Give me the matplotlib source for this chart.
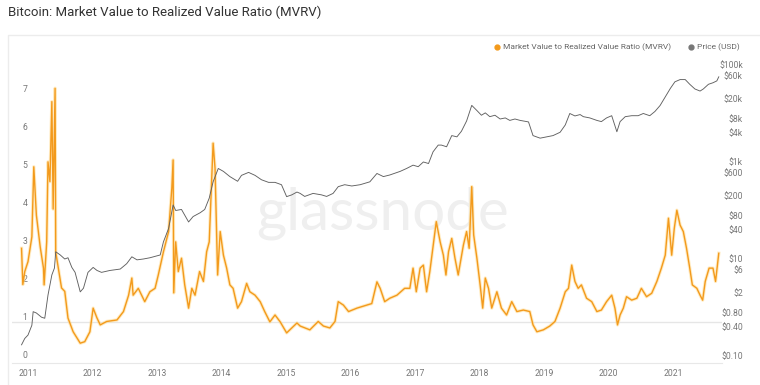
import matplotlib
matplotlib.use("Agg")
import matplotlib.pyplot as plt
from matplotlib.lines import Line2D
from matplotlib.patches import Rectangle
from matplotlib.ticker import FixedLocator, NullLocator

plt.rcParams['font.family'] = ['Roboto', 'DejaVu Sans']

# MVRV ratio (decimal year, ratio)
mvrv_years = [
    2010.90, 2010.92, 2010.95, 2011.00, 2011.06, 2011.09, 2011.13, 2011.19, 2011.24, 2011.25,
    2011.29, 2011.31, 2011.34, 2011.37, 2011.39, 2011.42, 2011.43, 2011.47, 2011.52, 2011.57,
    2011.62, 2011.70, 2011.81, 2011.88, 2011.96, 2012.01, 2012.07, 2012.12, 2012.22, 2012.38,
    2012.48, 2012.56, 2012.61, 2012.63, 2012.71, 2012.81, 2012.89, 2012.97, 2013.02, 2013.10,
    2013.18, 2013.23, 2013.25, 2013.26, 2013.29, 2013.33, 2013.38, 2013.43, 2013.49, 2013.54,
    2013.59, 2013.66, 2013.72, 2013.77, 2013.81, 2013.85, 2013.87, 2013.90, 2013.94, 2013.98,
    2014.03, 2014.08, 2014.13, 2014.18, 2014.25, 2014.31, 2014.39, 2014.44, 2014.52, 2014.60,
    2014.67, 2014.75, 2014.83, 2014.91, 2015.01, 2015.09, 2015.17, 2015.22, 2015.37, 2015.50,
    2015.58, 2015.68, 2015.76, 2015.81, 2015.89, 2015.97, 2016.10, 2016.25, 2016.33, 2016.41,
    2016.46, 2016.53, 2016.61, 2016.72, 2016.84, 2016.92, 2016.97, 2017.02, 2017.08, 2017.13,
    2017.18, 2017.23, 2017.29, 2017.33, 2017.39, 2017.44, 2017.48, 2017.52, 2017.57, 2017.62,
    2017.67, 2017.75, 2017.80, 2017.84, 2017.88, 2017.91, 2017.96, 2018.01, 2018.05, 2018.09,
    2018.14, 2018.19, 2018.27, 2018.34, 2018.42, 2018.50, 2018.58, 2018.68, 2018.78, 2018.83,
    2018.89, 2018.99, 2019.09, 2019.17, 2019.25, 2019.33, 2019.38, 2019.43, 2019.48, 2019.53,
    2019.58, 2019.66, 2019.74, 2019.82, 2019.89, 2019.97, 2020.05, 2020.10, 2020.14, 2020.18,
    2020.23, 2020.28, 2020.36, 2020.44, 2020.51, 2020.59, 2020.67, 2020.75, 2020.82, 2020.88,
    2020.93, 2020.98, 2021.02, 2021.06, 2021.11, 2021.16, 2021.21, 2021.26, 2021.30, 2021.37,
    2021.42, 2021.46, 2021.50, 2021.56, 2021.62, 2021.66, 2021.70, 2021.71,
]
mvrv_values = [
    2.80, 1.85, 2.19, 2.45, 3.10, 4.94, 3.67, 2.83, 2.28, 1.84,
    2.97, 5.07, 4.55, 6.65, 3.83, 7.00, 2.70, 2.28, 1.76, 1.67,
    0.97, 0.61, 0.31, 0.35, 0.61, 1.23, 0.97, 0.79, 0.88, 0.92,
    1.14, 1.57, 2.02, 1.57, 1.75, 1.40, 1.66, 1.75, 2.10, 2.71,
    3.24, 4.38, 5.12, 1.63, 2.97, 2.19, 2.54, 1.84, 1.23, 1.75,
    1.57, 2.19, 1.93, 2.71, 2.97, 4.65, 5.56, 4.90, 2.10, 3.24,
    2.62, 2.28, 1.84, 1.75, 1.23, 1.40, 1.88, 1.66, 1.57, 1.40,
    1.14, 0.87, 1.05, 0.87, 0.58, 0.71, 0.84, 0.76, 0.66, 0.88,
    0.76, 0.71, 0.88, 1.40, 1.31, 1.14, 1.23, 1.31, 1.35, 1.92,
    1.75, 1.40, 1.49, 1.57, 1.75, 1.75, 2.28, 1.66, 2.28, 2.36,
    1.66, 2.19, 2.97, 3.50, 2.97, 2.62, 2.10, 2.71, 3.06, 2.54,
    2.10, 2.88, 3.24, 2.80, 4.42, 3.15, 2.54, 1.84, 1.23, 2.02,
    1.75, 1.23, 1.66, 1.23, 1.05, 1.40, 1.14, 1.18, 1.14, 0.79,
    0.61, 0.66, 0.76, 0.88, 1.23, 1.66, 1.75, 2.36, 1.93, 1.75,
    1.84, 1.49, 1.40, 1.14, 1.18, 1.40, 1.57, 1.23, 0.79, 1.05,
    1.23, 1.53, 1.44, 1.49, 1.75, 1.53, 1.62, 1.93, 2.28, 2.62,
    3.59, 2.62, 3.32, 3.80, 3.41, 3.24, 2.80, 2.28, 1.84, 1.75,
    1.57, 1.44, 1.93, 2.28, 2.28, 1.93, 2.54, 2.67,
]

# BTC price in USD (decimal year, price)
price_years = [
    2010.90, 2010.95, 2011.00, 2011.06, 2011.08, 2011.13, 2011.21, 2011.26, 2011.31, 2011.37,
    2011.41, 2011.43, 2011.50, 2011.57, 2011.62, 2011.68, 2011.73, 2011.81, 2011.86, 2011.93,
    2012.01, 2012.07, 2012.14, 2012.27, 2012.43, 2012.53, 2012.61, 2012.69, 2012.79, 2012.89,
    2013.05, 2013.10, 2013.18, 2013.25, 2013.29, 2013.38, 2013.49, 2013.56, 2013.67, 2013.74,
    2013.81, 2013.87, 2013.95, 2014.03, 2014.13, 2014.25, 2014.31, 2014.42, 2014.52, 2014.62,
    2014.73, 2014.83, 2014.93, 2015.01, 2015.09, 2015.17, 2015.22, 2015.29, 2015.42, 2015.55,
    2015.63, 2015.73, 2015.81, 2015.91, 2016.02, 2016.15, 2016.30, 2016.41, 2016.51, 2016.61,
    2016.77, 2016.87, 2016.97, 2017.05, 2017.13, 2017.21, 2017.28, 2017.36, 2017.41, 2017.49,
    2017.57, 2017.65, 2017.72, 2017.80, 2017.88, 2017.96, 2018.03, 2018.09, 2018.16, 2018.24,
    2018.32, 2018.40, 2018.47, 2018.55, 2018.63, 2018.76, 2018.83, 2018.94, 2019.04, 2019.14,
    2019.25, 2019.33, 2019.40, 2019.48, 2019.56, 2019.61, 2019.71, 2019.82, 2019.89, 2019.97,
    2020.05, 2020.13, 2020.18, 2020.26, 2020.36, 2020.46, 2020.54, 2020.64, 2020.72, 2020.80,
    2020.88, 2020.96, 2021.03, 2021.11, 2021.19, 2021.26, 2021.34, 2021.42, 2021.47, 2021.55,
    2021.62, 2021.68, 2021.71,
]
price_values = [
    0.17, 0.23, 0.27, 0.43, 0.82, 0.77, 0.63, 0.60, 1.8, 4.7,
    6.5, 14.1, 12.1, 10.0, 10.6, 6.7, 5.3, 2.1, 2.5, 5.3,
    6.7, 5.8, 5.3, 5.8, 6.2, 8.0, 11.1, 9.6, 10.0, 10.6,
    12.1, 22.6, 42.6, 130, 100, 105, 58, 75, 90, 105,
    180, 390, 735, 640, 500, 400, 530, 610, 530, 430,
    380, 380, 340, 193, 210, 240, 225, 195, 225, 210,
    195, 225, 310, 340, 320, 340, 390, 580, 500, 540,
    640, 735, 860, 800, 1000, 930, 1620, 2230, 2230, 2060,
    3500, 3300, 4300, 7000, 14700, 11500, 9200, 10300, 8600, 9200,
    7700, 8100, 7200, 7700, 7200, 6700, 3500, 3100, 3300, 3500,
    4100, 5800, 10000, 8900, 9500, 8600, 8100, 7200, 6800, 8100,
    9000, 4200, 6800, 8600, 9000, 9000, 10000, 9000, 11000, 14600,
    22000, 33000, 45000, 50000, 50000, 40000, 32000, 29000, 32000, 40000,
    43000, 47000, 57000,
]

year_ticks = list(range(2011, 2022))
mvrv_ticks = [0, 1, 2, 3, 4, 5, 6, 7]
price_ticks = [100000, 60000, 20000, 8000, 4000, 1000, 600, 200, 80, 40, 10, 6, 2, 0.8, 0.4, 0.1]
price_tick_labels = ["$100k", "$60k", "$20k", "$8k", "$4k", "$1k", "$600", "$200",
                     "$80", "$40", "$10", "$6", "$2", "$0.80", "$0.40", "$0.10"]
ref_level = 0.87

mvrv_color = "#f39a1c"
price_color = "#606060"
label_color = "#777777"

fig = plt.figure(figsize=(7.6, 3.85), dpi=100)

# light panel frame
fig.patches.append(Rectangle((8 / 760, -0.1), 1.0, (385 - 35) / 385 + 0.1,
                             transform=fig.transFigure, fill=False,
                             edgecolor="#ececec", linewidth=1.0))

fig.text(8 / 760, 1 - 12 / 385, "Bitcoin: Market Value to Realized Value Ratio (MVRV)",
         ha="left", va="center", fontsize=9.5, color="#333333")

ax = fig.add_axes([12 / 760, 22 / 385, 710 / 760, 305 / 385])
ax.set_facecolor("none")
ax.set_xlim(2010.752, 2021.760)
ax.set_ylim(-0.21, 7.795)

ax.text(0.522, 0.49, "glassnode", transform=ax.transAxes, ha="center", va="center",
        fontsize=42, color="#efefef", family="Lato", zorder=0)

ax.axhline(ref_level, color="#e6e6e6", linewidth=1.0, zorder=1)

# MVRV line with a soft glow
ax.plot(mvrv_years, mvrv_values, color="#ffdc90", linewidth=2.4, alpha=0.55, zorder=2,
        solid_joinstyle="round")
ax.plot(mvrv_years, mvrv_values, color=mvrv_color, linewidth=1.0, zorder=3,
        solid_joinstyle="round")

ax.xaxis.set_major_locator(FixedLocator(year_ticks))
ax.set_xticklabels([str(y) for y in year_ticks])
ax.yaxis.set_major_locator(FixedLocator(mvrv_ticks))
ax.set_yticklabels([str(v) for v in mvrv_ticks])
ax.tick_params(axis="x", length=0, pad=4, labelsize=6.2, labelcolor=label_color)
ax.tick_params(axis="y", length=0, pad=-11, labelsize=6.2, labelcolor=label_color)

for s in ["top", "left", "right"]:
    ax.spines[s].set_visible(False)
ax.spines["bottom"].set_color("#e8e8e8")

ax2 = ax.twinx()
ax2.set_yscale("log")
ax2.set_ylim(0.0717, 139300)
ax2.plot(price_years, price_values, color=price_color, linewidth=0.65, zorder=2)
ax2.yaxis.set_major_locator(FixedLocator(price_ticks))
ax2.yaxis.set_minor_locator(NullLocator())
ax2.set_yticklabels(price_tick_labels)
ax2.tick_params(axis="y", length=0, pad=15, labelsize=6.2, labelcolor=label_color)
for lab in ax2.get_yticklabels():
    lab.set_horizontalalignment("right")
for s in ax2.spines.values():
    s.set_visible(False)

# legend
fig.add_artist(Line2D([497 / 760], [1 - 47 / 385], marker="o", markersize=3.5,
                      color=mvrv_color, linestyle="none", transform=fig.transFigure))
fig.text(503 / 760, 1 - 47 / 385, "Market Value to Realized Value Ratio (MVRV)",
         ha="left", va="center", fontsize=6, color="#666666")
fig.add_artist(Line2D([691 / 760], [1 - 47 / 385], marker="o", markersize=3.5,
                      color="#777777", linestyle="none", transform=fig.transFigure))
fig.text(697 / 760, 1 - 47 / 385, "Price (USD)",
         ha="left", va="center", fontsize=6, color="#666666")

fig.savefig("out.png", dpi=100, facecolor="white")
